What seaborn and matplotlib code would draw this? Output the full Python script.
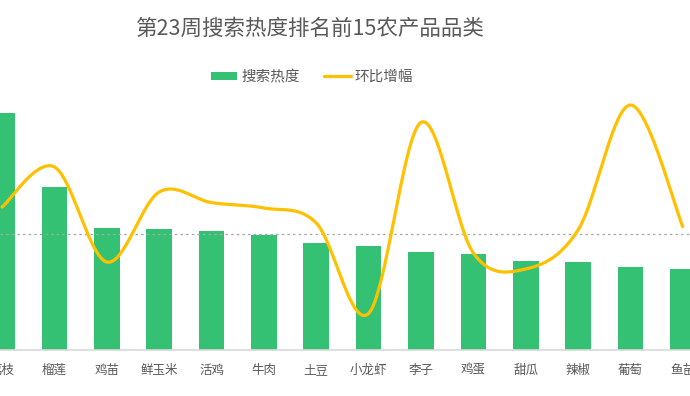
import numpy as np
import pandas as pd
import matplotlib
matplotlib.use("Agg")
import matplotlib.pyplot as plt
from matplotlib.patches import Patch
from matplotlib.lines import Line2D
import seaborn as sns

# ---- data ----
categories = ["荔枝", "榴莲", "鸡苗", "鲜玉米", "活鸡", "牛肉", "土豆", "小龙虾",
              "李子", "鸡蛋", "甜瓜", "辣椒", "葡萄", "鱼苗"]
search_heat = [100.0, 68.9, 51.7, 51.2, 50.3, 48.6, 45.1, 43.8,
               41.3, 40.7, 37.6, 37.3, 35.1, 34.3]
mom_growth = [13.5, 33.5, -14.0, 21.0, 15.7, 13.0, 5.5, -39.7,
              55.8, -9.5, -17.5, 2.0, 64.5, 3.7]
title = "第23周搜索热度排名前15农产品品类"
legend_labels = ["搜索热度", "环比增幅"]

BAR_COLOR = "#34C173"
LINE_COLOR = "#FFC000"
TEXT_COLOR = "#595959"

sns.set_style("white")
plt.rcParams["font.family"] = ["Noto Sans CJK SC", "DejaVu Sans"]

W, H = 690, 396
fig = plt.figure(figsize=(W / 100, H / 100), dpi=100)

ax_top_px, ax_bot_px = 100, 350
ax = fig.add_axes([0, 1 - ax_bot_px / H, 1, (ax_bot_px - ax_top_px) / H])

df = pd.DataFrame({"cat": categories, "heat": search_heat})
sns.barplot(data=df, x="cat", y="heat", color=BAR_COLOR, saturation=1,
            width=0.49, ax=ax, edgecolor="none")

ax.set_xlim(-0.040, 13.138)
ax.set_ylim(0, (ax_bot_px - ax_top_px) / 2.367)
ax.set_xlabel("")
ax.set_ylabel("")
ax.set_yticks([])
ax.tick_params(axis="x", length=0, pad=10, labelsize=9, labelcolor=TEXT_COLOR)
for s in ["top", "left", "right"]:
    ax.spines[s].set_visible(False)
ax.spines["bottom"].set_color("#D9D9D9")
ax.spines["bottom"].set_linewidth(1.2)

# secondary axis for growth line
ax2 = ax.twinx()
ax2.set_ylim((234 - ax_bot_px) * 0.5, (234 - ax_top_px) * 0.5)
ax2.set_yticks([])
for s in ["top", "left", "right", "bottom"]:
    ax2.spines[s].set_visible(False)
ax2.axhline(0, color="#A6A6A6", lw=0.9, ls=(0, (2, 2.5)), zorder=1)


def smooth_curve(yv, n=40):
    """Bezier smoothing through points (Excel-style smoothed line)."""
    yv = np.asarray(yv, dtype=float)
    xv = np.arange(len(yv), dtype=float)
    pts = np.column_stack([xv, yv])
    ext = np.vstack([pts[0], pts, pts[-1]])
    out = []
    t = np.linspace(0, 1, n)[:, None]
    for i in range(len(pts) - 1):
        p0, p1, p2, p3 = ext[i], ext[i + 1], ext[i + 2], ext[i + 3]
        c1 = p1 + (p2 - p0) / 6.0
        c2 = p2 - (p3 - p1) / 6.0
        seg = ((1 - t) ** 3) * p1 + 3 * ((1 - t) ** 2) * t * c1 \
            + 3 * (1 - t) * t ** 2 * c2 + t ** 3 * p2
        out.append(seg if i == 0 else seg[1:])
    arr = np.vstack(out)
    return arr[:, 0], arr[:, 1]


cx, cy = smooth_curve(mom_growth)
ax2.plot(cx, cy, color=LINE_COLOR, lw=2.3, solid_capstyle="round",
         clip_on=False, zorder=5)

# title
fig.text(310 / W, 1 - 29 / H, title, ha="center", va="center",
         fontsize=15.5, color=TEXT_COLOR)

# legend
handles = [Patch(facecolor=BAR_COLOR, edgecolor="none"),
           Line2D([0], [0], color=LINE_COLOR, lw=2.3)]
fig.legend(handles, legend_labels, loc="center", ncol=2,
           bbox_to_anchor=(312 / W, 1 - 77 / H), frameon=False,
           fontsize=10.5, labelcolor=TEXT_COLOR, handlelength=1.8,
           handleheight=0.55, handletextpad=0.25, columnspacing=1.7)

fig.savefig("out.png", dpi=100)
